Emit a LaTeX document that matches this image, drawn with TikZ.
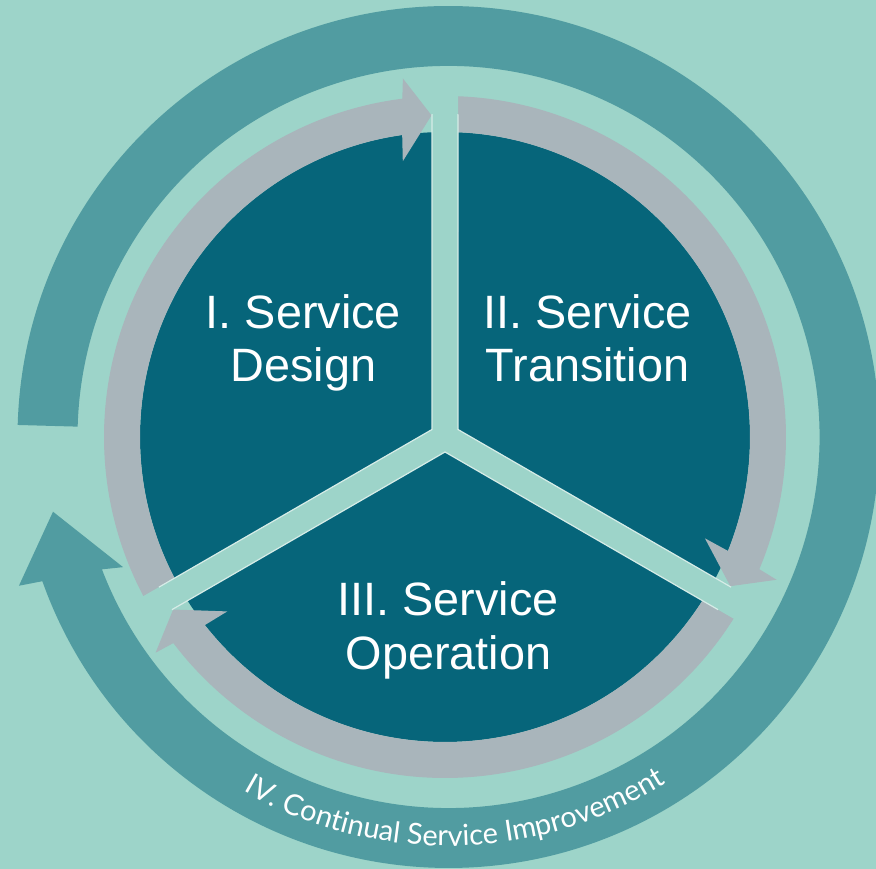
\documentclass[tikz,border=0pt]{standalone}
\usepackage{fontspec}
\setmainfont{Liberation Sans}
\newfontfamily\latofont{Lato}
\usetikzlibrary{decorations.text}
\definecolor{bgteal}{HTML}{9DD4C9}
\definecolor{bandteal}{HTML}{519CA1}
\definecolor{ringgray}{HTML}{A9B5BB}
\definecolor{diskblue}{HTML}{06657A}
\definecolor{edgelight}{HTML}{D6ECE7}
\begin{document}
\begin{tikzpicture}[x=1pt,y=1pt,
  labeltext/.style={text=white, font=\fontsize{46.8}{53.4}\selectfont, anchor=base, inner sep=0pt},
  grayarrow/.style={fill=ringgray},
  bandarrow/.style={fill=bandteal},
  divider/.style={fill=bgteal},
  divideredge/.style={draw=edgelight, line width=1.2pt, line join=miter}]
\clip (0,0) rectangle (876,869);
\fill[bgteal] (0,0) rectangle (876,869);
\coordinate (C) at (445,432);
\coordinate (O) at (448.5,432);
% outer improvement arrow
\begin{scope}[shift={(448.5,432)}]
\fill[bandarrow] (178.4:431pt) arc[start angle=178.4, end angle=-160.45, radius=431pt]
  -- (-160.9:454.6pt) -- (-169.3:402.5pt) -- (-158.2:350.5pt) -- (-159.1:371pt)
  arc[start angle=-159.1, end angle=178.4, radius=371pt] -- cycle;
\path[decorate, decoration={text along path, text align=center,
  text={|\latofont\fontsize{29}{32}\selectfont\color{white}|IV. Continual Service Improvement}}]
  (-129:409pt) arc[start angle=-129, end angle=-49, radius=409pt];
\end{scope}
% disc
\fill[diskblue] (C) circle[radius=305pt];
% gray ring arrows
\begin{scope}[shift={(445,432)}]
\foreach \b in {90,-30,-150} {
  \fill[grayarrow] ({\b+120}:341pt) arc[start angle={\b+120}, end angle={\b+7.19}, radius=341pt]
    -- ({\b+6.7}:361pt) -- ({\b+2.4}:322pt) -- ({\b+8.7}:279pt) -- ({\b+8.07}:305pt)
    arc[start angle={\b+8.07}, end angle={\b+120}, radius=305pt] -- cycle;
}
% dividers
\path[divider] (12.99,7.5) -- (13,365) -- (-13,365) -- (-12.99,7.5) -- (-322.6,-171.24)
  -- (-309.6,-193.76) -- (0,-15) -- (309.6,-193.76) -- (322.6,-171.24) -- cycle;
\begin{scope}
\clip (0,0) circle[radius=323pt];
\path[divideredge] (12.99,7.5) -- (13,365) -- (-13,365) -- (-12.99,7.5) -- (-322.6,-171.24)
  -- (-309.6,-193.76) -- (0,-15) -- (309.6,-193.76) -- (322.6,-171.24) -- cycle;
\end{scope}
\end{scope}
% labels
\node[labeltext] (d1a) at (303.5,540.7) {I. Service};
\node[labeltext] (d1b) at (303.5,487.3) {Design};
\node[labeltext] (d2a) at (587.5,540.7) {II. Service};
\node[labeltext] (d2b) at (587.5,487.3) {Transition};
\node[labeltext] (d3a) at (448,253) {III. Service};
\node[labeltext] (d3b) at (448.5,199.6) {Operation};
\end{tikzpicture}
\end{document}
